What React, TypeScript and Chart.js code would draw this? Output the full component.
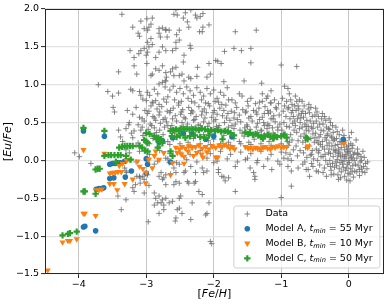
import React, { useEffect, useRef } from "react";
import { Chart, registerables } from "chart.js";
Chart.register(...registerables);

const FONT = '"DejaVu Sans", sans-serif';

const xTicks = [-4, -3, -2, -1, 0];
const yTicks = [-1.5, -1.0, -0.5, 0, 0.5, 1.0, 1.5, 2.0];
const legendNames = ["Data", "Model A", "Model B", "Model C"];
const legendTmin = [55, 10, 50];

const dataStars: number[][] = [
  // far left & outliers
  [-4.06,0.10],[-3.99,0.05],[-3.82,-0.04],[-3.71,1.00],[-3.57,0.91],[-3.50,0.85],[-3.41,0.89],[-3.41,1.17],[-3.41,0.40],
  [-3.28,0.66],[-3.36,1.93],[-3.49,0.70],[-3.47,0.64],[-3.32,-0.10],[-3.29,-0.16],[-3.42,-0.47],[-3.37,-0.65],[-3.30,-0.52],
  // top region
  [-3.08,1.84],[-2.99,1.87],[-2.91,1.88],[-3.20,1.76],[-3.12,1.68],[-3.10,1.64],[-3.03,1.74],[-2.98,1.72],[-2.96,1.76],[-2.93,1.80],
  [-2.81,1.74],[-2.76,1.75],[-2.71,1.72],[-2.81,1.68],[-2.79,1.63],[-2.93,1.61],[-2.98,1.56],[-2.91,1.53],
  [-3.24,1.45],[-3.18,1.36],[-3.11,1.41],[-3.08,1.45],[-3.03,1.48],[-3.00,1.39],[-2.98,1.43],[-2.96,1.50],[-2.86,1.36],[-2.81,1.43],[-2.76,1.50],[-2.71,1.45],
  [-3.18,1.25],[-3.14,1.14],[-2.99,1.28],[-2.93,1.12],[-2.91,1.14],[-2.86,1.21],[-2.81,1.19],[-2.76,1.25],[-2.71,1.16],
  [-3.23,0.94],[-3.20,0.92],[-3.10,0.91],[-3.08,0.86],[-2.98,0.90],[-2.95,0.86],[-2.88,0.94],[-2.83,0.88],[-2.81,1.01],[-2.76,1.03],[-2.72,1.05],
  [-3.05,0.81],[-3.00,0.79],[-2.91,0.77],[-2.86,0.79],[-2.81,0.74],[-2.74,0.81],
  [-2.56,1.99],[-2.42,1.95],[-2.34,1.99],[-2.27,1.92],[-2.25,1.88],[-2.20,1.90],[-2.16,1.94],[-2.45,1.88],[-2.39,1.83],[-2.54,1.92],[-2.59,1.93],
  [-2.37,1.76],[-2.16,1.76],[-2.07,1.79],[-2.21,1.70],[-2.17,1.70],[-2.71,1.73],[-2.66,1.72],[-2.51,1.72],[-2.69,1.63],[-2.55,1.66],[-2.51,1.59],[-2.56,1.56],
  [-1.68,1.70],[-1.37,1.72],[-1.70,1.48],[-1.59,1.45],[-1.45,1.48],[-1.84,1.44],[-2.35,1.52],[-2.34,1.48],[-2.61,1.45],[-2.56,1.48],
  [-1.97,1.32],[-1.94,1.31],[-1.89,1.28],[-1.45,1.29],[-1.00,1.26],[-2.44,1.39],[-2.45,1.30],[-2.24,1.23],[-2.07,1.28],[-2.05,1.14],[-2.10,1.10],
  [-2.56,1.23],[-2.61,1.21],[-2.64,1.17],[-2.70,1.10],[-2.59,1.12],[-2.51,1.12],[-2.47,1.14],[-2.37,1.10],[-2.44,1.05],[-2.34,1.08],[-2.71,1.05],[-2.25,1.11],
  [-1.85,1.04],[-1.55,1.05],[-1.29,1.02],[-0.77,1.24],
  // upper bulge
  [-2.72,0.97],[-2.65,0.93],[-2.60,0.98],[-2.55,0.90],[-2.50,0.95],[-2.45,0.88],[-2.40,0.97],[-2.35,0.92],[-2.30,0.86],[-2.25,0.96],[-2.20,0.90],
  [-2.15,0.85],[-2.10,0.95],[-2.05,0.88],[-2.00,0.93],[-1.95,0.82],[-1.90,0.90],[-1.85,0.86],[-1.80,0.96],[-2.68,0.84],[-2.58,0.80],[-2.48,0.78],
  [-2.38,0.82],[-2.28,0.76],[-2.18,0.80],[-2.08,0.75],[-1.98,0.78],[-1.88,0.74],[-1.78,0.80],
  [-1.73,0.80],[-1.62,0.88],[-1.58,0.85],[-1.45,0.82],[-1.38,0.75],[-1.28,0.78],[-1.20,0.85],[-1.10,0.80],[-1.04,0.75],[-1.15,0.92],
  [-2.90,0.76],[-2.70,0.77],[-2.52,0.76],[-2.33,0.78],[-2.12,0.76],[-1.93,0.77],[-1.68,0.76],[-1.50,0.78],[-1.32,0.77],[-1.16,0.76],
  // main bulge rows
  [-3.15,0.70],[-3.02,0.66],[-2.93,0.72],[-2.84,0.68],[-2.77,0.71],[-2.69,0.65],[-2.60,0.69],[-2.52,0.73],[-2.46,0.67],[-2.37,0.70],[-2.31,0.64],
  [-2.22,0.71],[-2.14,0.68],[-2.06,0.72],[-1.99,0.66],[-1.91,0.69],[-1.82,0.73],[-1.74,0.65],[-1.66,0.70],[-1.57,0.67],[-1.49,0.72],[-1.41,0.66],
  [-1.33,0.69],[-1.24,0.71],[-1.16,0.64],[-1.07,0.68],
  [-3.20,0.61],[-3.10,0.57],[-2.98,0.62],[-2.90,0.58],[-2.81,0.60],[-2.72,0.56],[-2.65,0.63],[-2.57,0.59],[-2.49,0.61],[-2.42,0.55],[-2.34,0.62],
  [-2.26,0.58],[-2.18,0.60],[-2.11,0.63],[-2.03,0.57],[-1.95,0.61],[-1.87,0.59],[-1.79,0.62],[-1.70,0.56],[-1.62,0.60],[-1.53,0.63],[-1.45,0.58],
  [-1.36,0.61],[-1.28,0.57],[-1.19,0.62],[-1.11,0.59],[-1.03,0.60],
  [-3.25,0.50],[-3.12,0.47],[-3.03,0.52],[-2.94,0.48],[-2.86,0.53],[-2.79,0.49],[-2.70,0.51],[-2.62,0.46],[-2.55,0.52],[-2.47,0.50],[-2.39,0.48],
  [-2.30,0.53],[-2.23,0.47],[-2.15,0.51],[-2.07,0.49],[-2.00,0.52],[-1.92,0.46],[-1.84,0.50],[-1.76,0.53],[-1.68,0.48],[-1.60,0.51],[-1.51,0.47],
  [-1.43,0.52],[-1.35,0.49],[-1.26,0.50],[-1.18,0.46],[-1.09,0.51],[-1.02,0.48],
  [-3.30,0.42],[-3.18,0.39],[-3.06,0.44],[-2.97,0.41],[-2.88,0.43],[-2.80,0.40],[-2.73,0.44],[-2.64,0.42],[-2.58,0.39],[-2.50,0.43],[-2.41,0.41],
  [-2.33,0.44],[-2.25,0.40],[-2.17,0.42],[-2.09,0.45],[-2.01,0.41],[-1.93,0.43],[-1.86,0.39],[-1.78,0.44],[-1.70,0.42],[-1.61,0.40],[-1.54,0.43],
  [-1.46,0.41],[-1.37,0.44],[-1.29,0.39],[-1.21,0.42],[-1.13,0.43],[-1.05,0.40],
  [-3.06,0.55],[-2.88,0.56],[-2.75,0.54],[-2.61,0.55],[-2.44,0.57],[-2.28,0.54],[-2.13,0.56],[-1.97,0.54],[-1.81,0.56],[-1.65,0.54],[-1.48,0.56],[-1.32,0.54],[-1.15,0.55],
  [-2.96,0.65],[-2.80,0.64],[-2.64,0.66],[-2.48,0.64],[-2.33,0.66],[-2.17,0.65],[-2.01,0.63],[-1.85,0.66],[-1.69,0.63],[-1.52,0.65],[-1.37,0.64],[-1.20,0.66],
  [-2.92,0.46],[-2.68,0.46],[-2.45,0.45],[-2.20,0.46],[-1.96,0.45],[-1.73,0.46],[-1.50,0.45],[-1.25,0.46],
  [-2.85,0.37],[-2.58,0.36],[-2.33,0.37],[-2.05,0.36],[-1.80,0.37],[-1.58,0.36],[-1.35,0.37],[-1.12,0.36],
  [-3.35,0.25],[-3.30,0.14],[-3.22,0.36],[-3.26,0.47],[-3.38,0.31],[-3.12,0.23],[-3.08,0.40],
  // band region
  [-3.20,0.30],[-3.05,0.33],[-2.90,0.29],[-2.75,0.34],[-2.60,0.28],[-2.45,0.33],[-2.30,0.29],[-2.15,0.34],[-2.00,0.28],[-1.85,0.33],[-1.70,0.29],
  [-1.55,0.32],[-1.40,0.28],[-1.25,0.34],[-1.10,0.29],[-0.95,0.33],
  [-2.68,0.25],[-2.38,0.24],[-2.08,0.26],[-1.78,0.24],[-1.62,0.25],[-1.48,0.24],[-1.18,0.25],[-0.88,0.24],
  [-3.15,0.20],[-2.95,0.22],[-2.80,0.19],[-2.65,0.21],[-2.50,0.22],[-2.35,0.20],[-2.20,0.22],[-2.05,0.21],[-1.90,0.22],[-1.75,0.20],[-1.60,0.22],
  [-1.45,0.21],[-1.30,0.22],[-1.15,0.20],[-1.00,0.22],
  [-3.25,0.10],[-3.10,0.12],[-2.95,0.08],[-2.80,0.13],[-2.65,0.09],[-2.50,0.11],[-2.35,0.08],[-2.20,0.13],[-2.05,0.09],[-1.90,0.12],[-1.75,0.08],
  [-1.60,0.11],[-1.45,0.09],[-1.30,0.12],[-1.15,0.08],[-1.00,0.11],
  [-3.30,0.01],[-3.15,-0.02],[-2.98,0.03],[-2.83,-0.01],[-2.68,0.02],[-2.55,-0.03],[-2.40,0.01],[-2.25,-0.02],[-2.10,0.03],[-1.95,-0.01],[-1.80,0.02],
  [-1.65,-0.02],[-1.50,0.03],[-1.35,0.00],[-1.20,0.02],[-1.05,-0.01],[-0.90,0.02],
  // below band
  [-2.71,0.03],[-2.66,-0.03],[-2.59,-0.10],[-2.51,-0.05],[-2.42,-0.14],[-2.34,-0.08],[-2.27,-0.16],[-2.17,-0.10],[-2.10,-0.14],[-2.00,-0.03],
  [-1.93,-0.12],[-1.88,-0.21],[-2.78,-0.16],[-2.74,-0.23],[-2.88,-0.05],[-2.98,-0.19],[-3.10,-0.21],[-3.30,-0.14],
  [-1.68,-0.08],[-1.53,0.01],[-1.46,-0.10],[-1.36,-0.03],[-1.26,-0.08],[-1.14,-0.12],[-1.02,-0.05],[-0.90,-0.08],[-0.85,-0.14],[-0.75,-0.10],
  [-0.68,-0.05],[-0.63,-0.12],[-0.53,-0.08],[-0.48,-0.14],[-0.58,-0.21],[-0.38,-0.16],[-1.39,-0.21],[-1.78,-0.23],
  // lower scatter
  [-3.14,-0.21],[-3.09,-0.23],[-3.05,-0.21],[-3.03,-0.25],[-3.16,-0.32],[-3.09,-0.30],[-3.20,-0.36],[-3.18,-0.41],[-3.03,-0.43],[-2.96,-0.33],
  [-2.88,-0.43],[-2.81,-0.47],[-2.76,-0.52],[-2.71,-0.50],[-2.86,-0.50],[-2.83,-0.56],[-2.88,-0.59],[-2.74,-0.59],[-2.66,-0.56],[-2.61,-0.54],
  [-2.51,-0.50],[-2.49,-0.47],[-2.54,-0.65],[-2.51,-0.63],[-2.47,-0.70],[-2.56,-0.76],[-2.34,-0.78],[-2.32,-0.56],[-2.22,-0.41],[-2.17,-0.45],
  [-2.07,-0.56],[-2.10,-0.70],[-2.12,-0.72],[-2.39,-0.28],[-2.37,-0.30],[-2.29,-0.30],[-2.27,-0.28],[-2.51,-0.30],[-2.56,-0.28],[-2.59,-0.32],
  [-2.71,-0.32],[-2.76,-0.25],[-2.81,-0.21],[-2.71,-0.19],[-2.64,-0.18],[-2.56,-0.16],[-2.44,-0.16],[-2.15,-0.16],[-1.93,-0.16],[-1.85,-0.22],
  [-1.83,-0.27],[-1.68,-0.41],[-1.41,-0.16],[-1.39,-0.25],[-2.97,-0.81],[-2.81,-0.70],[-2.74,-0.65],[-2.78,-0.56],[-2.57,-0.80],
  [-2.05,-1.07],[-2.03,-1.10],[-0.85,-0.34],[-1.00,-0.49],
  // right part of bulge
  [-1.28,0.88],[-1.22,0.82],[-1.15,0.76],[-1.08,0.70],[-1.25,0.62],[-1.12,0.55],[-1.20,0.48],[-1.05,0.44],[-1.30,0.40],[-1.18,0.36],
  [-0.95,0.98],[-0.90,0.95],
  // right cluster
  [-0.98,0.82],[-0.95,0.72],[-0.97,0.65],[-0.93,0.58],[-0.96,0.50],[-0.92,0.45],[-0.99,0.40],[-0.94,0.35],[-0.91,0.25],[-0.97,0.18],[-0.93,0.10],[-0.96,0.03],[-0.90,0.68],[-0.92,0.78],
  [-0.88,0.88],[-0.86,0.80],[-0.84,0.74],[-0.89,0.70],[-0.85,0.63],[-0.82,0.58],[-0.87,0.55],[-0.83,0.49],[-0.88,0.44],[-0.81,0.40],[-0.86,0.34],[-0.84,0.27],[-0.89,0.20],[-0.82,0.14],[-0.87,0.08],[-0.85,0.00],[-0.83,0.66],[-0.80,0.52],
  [-0.79,0.85],[-0.77,0.78],[-0.75,0.72],[-0.78,0.66],[-0.74,0.60],[-0.76,0.55],[-0.72,0.50],[-0.79,0.46],[-0.73,0.42],[-0.77,0.37],[-0.71,0.32],[-0.75,0.26],[-0.78,0.19],[-0.72,0.13],[-0.76,0.06],[-0.74,0.68],[-0.71,0.56],[-0.73,0.80],
  [-0.69,0.78],[-0.66,0.72],[-0.68,0.65],[-0.64,0.62],[-0.67,0.57],[-0.62,0.53],[-0.65,0.48],[-0.69,0.44],[-0.63,0.40],[-0.66,0.35],[-0.61,0.30],[-0.68,0.24],[-0.64,0.17],[-0.67,0.10],[-0.62,0.04],[-0.65,-0.02],[-0.60,0.68],[-0.63,0.45],
  [-0.59,0.74],[-0.56,0.70],[-0.58,0.63],[-0.54,0.58],[-0.57,0.52],[-0.52,0.49],[-0.55,0.44],[-0.59,0.39],[-0.53,0.35],[-0.56,0.29],[-0.51,0.24],[-0.58,0.19],[-0.54,0.13],[-0.57,0.07],[-0.52,0.02],[-0.55,-0.04],[-0.50,0.60],[-0.53,0.42],
  [-0.49,0.69],[-0.47,0.64],[-0.45,0.58],[-0.48,0.52],[-0.43,0.48],[-0.46,0.44],[-0.41,0.40],[-0.49,0.36],[-0.44,0.31],[-0.47,0.26],[-0.42,0.21],[-0.48,0.15],[-0.45,0.10],[-0.41,0.05],[-0.46,0.00],[-0.43,-0.06],[-0.40,0.55],[-0.42,0.34],
  [-0.39,0.62],[-0.36,0.58],[-0.34,0.53],[-0.38,0.48],[-0.33,0.44],[-0.37,0.39],[-0.31,0.35],[-0.35,0.30],[-0.39,0.25],[-0.32,0.20],[-0.36,0.15],[-0.30,0.10],[-0.38,0.05],[-0.34,0.00],[-0.31,-0.05],[-0.36,-0.10],[-0.33,0.27],[-0.30,0.42],
  [-0.29,0.55],[-0.27,0.50],[-0.24,0.46],[-0.28,0.41],[-0.23,0.37],[-0.26,0.32],[-0.21,0.28],[-0.29,0.23],[-0.25,0.19],[-0.22,0.14],[-0.27,0.09],[-0.23,0.05],[-0.28,0.00],[-0.24,-0.04],[-0.21,-0.09],[-0.26,-0.13],[-0.22,-0.18],[-0.25,0.30],[-0.20,0.11],
  [-0.19,0.44],[-0.17,0.38],[-0.14,0.34],[-0.18,0.29],[-0.13,0.25],[-0.16,0.21],[-0.11,0.17],[-0.19,0.13],[-0.15,0.09],[-0.12,0.05],[-0.17,0.01],[-0.13,-0.03],[-0.18,-0.07],[-0.14,-0.11],[-0.11,-0.15],[-0.16,-0.19],[-0.12,-0.23],[-0.15,0.15],[-0.10,0.00],[-0.13,0.11],
  [-0.09,0.40],[-0.07,0.33],[-0.05,0.26],[-0.08,0.22],[-0.03,0.18],[-0.06,0.14],[-0.01,0.10],[-0.09,0.07],[-0.04,0.03],[-0.07,-0.01],[-0.02,-0.05],[-0.08,-0.09],[-0.05,-0.13],[-0.01,-0.17],[-0.06,-0.21],[-0.03,-0.26],[-0.04,0.08],[0.00,0.00],[-0.02,0.12],
  [0.01,0.30],[0.03,0.22],[0.05,0.16],[0.02,0.12],[0.07,0.08],[0.04,0.04],[0.08,0.00],[0.01,-0.03],[0.06,-0.07],[0.03,-0.11],[0.09,-0.14],[0.02,-0.18],[0.07,-0.22],[0.04,0.37],[0.05,0.02],[0.09,0.10],[0.00,0.20],
  [0.11,0.27],[0.13,0.15],[0.15,0.08],[0.12,0.03],[0.17,-0.02],[0.14,-0.07],[0.19,-0.10],[0.12,-0.15],[0.16,-0.20],[0.21,0.12],[0.23,0.04],[0.25,-0.04],[0.22,-0.08],[0.27,-0.11],[0.18,0.05],[0.20,-0.15],[0.28,-0.02],
  [-0.33,-0.21],[-0.26,-0.19],[-0.15,-0.25],[0.02,-0.27],[-0.45,-0.15],[-0.60,-0.12],
  [-0.44,0.13],[-0.39,0.18],[-0.35,0.08],[-0.29,0.15],[-0.27,-0.08],[-0.20,0.20],[-0.19,-0.02],[-0.16,0.06],[-0.10,0.24],[-0.09,-0.05],
  [-0.06,0.05],[-0.03,-0.10],[-0.01,0.15],[0.02,0.06],[0.05,-0.15],[0.06,0.20],[0.10,-0.05],[0.13,0.09],[0.16,-0.12],[0.19,0.00],
  [0.24,-0.16],[-0.50,0.30],[-0.60,0.45],[-0.70,0.62],[-0.80,0.72],[-0.64,0.26],[-0.55,0.08],[-0.45,0.23],[-0.32,0.33],[-0.23,0.26]
];

const modelA: number[][] = [
  [-3.93,0.39],[-3.62,0.32],[-3.93,-0.88],[-3.91,-0.87],[-3.75,-0.93],
  [-3.74,-0.38],[-3.70,-0.37],[-3.66,-0.37],[-3.63,-0.36],
  [-3.54,-0.05],[-3.50,-0.04],[-3.46,-0.04],[-3.42,-0.03],[-3.38,-0.03],
  [-3.54,-0.24],[-3.48,-0.23],[-3.31,-0.22],[-3.22,-0.14],[-3.32,-0.01],
  [-3.00,-0.17],[-3.00,0.02],[-2.98,-0.05],[-2.81,0.24],[-2.76,0.26],[-2.64,-0.02],
  [-2.61,0.30],[-2.45,0.36],[-2.32,0.35],[-2.12,0.28],[-2.00,0.32],[-1.73,0.31],[-0.08,0.28]
];

const modelB: number[][] = [
  [-4.46,-1.45],[-4.24,-1.08],[-4.16,-1.06],[-4.13,-1.06],[-4.03,-1.04],
  [-3.93,-0.70],[-3.91,-0.70],[-3.75,-0.73],[-3.93,0.14],[-3.62,0.09],
  [-3.74,-0.39],[-3.70,-0.39],[-3.66,-0.38],
  [-3.54,-0.17],[-3.50,-0.16],[-3.46,-0.16],[-3.42,-0.15],[-3.37,-0.15],
  [-3.54,-0.31],[-3.48,-0.31],[-3.43,-0.39],[-3.32,-0.31],
  [-3.40,-0.07],[-3.35,-0.04],[-3.29,0.00],[-3.25,0.01],[-3.20,-0.25],
  [-3.13,-0.01],[-3.10,-0.08],[-3.05,-0.11],[-3.01,-0.30],[-3.00,-0.16],
  [-2.96,0.01],[-2.91,-0.10],[-2.88,0.06],[-2.86,0.12],[-2.81,0.01],[-2.74,0.10],[-2.64,-0.19],[-2.61,-0.03],
  [-2.56,0.17],[-2.51,0.15],[-2.47,0.18],[-2.42,0.16],[-2.37,0.19],[-2.32,0.17],[-2.27,0.18],[-2.22,0.20],[-2.17,0.16],[-2.12,0.18],
  [-2.07,0.15],[-2.02,0.19],[-1.97,0.17],[-1.92,0.20],[-1.88,0.18],[-1.84,0.21],[-1.80,0.19],[-1.76,0.16],[-1.72,0.18],[-1.69,0.15],
  [-2.54,0.10],[-2.48,0.08],[-2.44,0.05],[-2.38,0.12],[-2.30,0.06],[-2.25,0.10],[-2.18,0.08],[-2.10,0.11],[-1.97,0.04],
  [-2.44,-0.04],[-2.16,0.04],[-1.94,0.04],
  [-1.53,0.18],[-1.49,0.16],[-1.46,0.17],[-1.42,0.15],[-1.38,0.17],[-1.35,0.16],[-1.31,0.15],[-1.27,0.17],[-1.24,0.18],[-1.20,0.16],
  [-1.16,0.15],[-1.13,0.18],[-1.09,0.17],[-1.05,0.19],[-1.00,0.17],[-0.96,0.18],[-0.92,0.18],
  [-0.61,0.17],[-0.60,0.19],[-0.07,0.22]
];

const modelC: number[][] = [
  [-4.24,-0.99],[-4.16,-0.97],[-4.13,-0.96],[-4.03,-0.94],
  [-3.93,0.43],[-3.62,0.39],[-3.93,-0.41],[-3.91,-0.41],[-3.75,-0.44],
  [-3.75,-0.12],[-3.72,-0.11],[-3.69,-0.11],
  [-3.62,0.06],[-3.56,0.07],[-3.52,0.07],[-3.47,0.07],[-3.42,0.07],[-3.38,0.07],[-3.30,0.06],[-3.45,-0.02],
  [-3.40,0.17],[-3.36,0.18],[-3.32,0.19],[-3.28,0.19],[-3.24,0.19],[-3.20,0.19],[-3.23,0.01],
  [-3.10,0.19],[-3.06,0.17],[-3.02,0.13],[-2.98,0.12],[-3.03,0.27],[-3.00,0.25],[-2.98,0.23],[-3.00,0.36],[-2.95,0.35],
  [-2.88,0.32],[-2.85,0.28],[-2.82,0.30],[-2.80,0.25],[-2.78,0.28],[-2.76,0.23],[-2.83,0.17],[-2.64,0.12],[-2.61,0.06],
  [-2.64,0.39],[-2.60,0.40],[-2.56,0.41],[-2.52,0.39],[-2.48,0.42],[-2.44,0.41],[-2.40,0.42],[-2.36,0.41],[-2.31,0.41],[-2.27,0.42],
  [-2.22,0.40],[-2.18,0.42],[-2.13,0.41],[-2.08,0.39],[-2.04,0.40],[-1.98,0.39],[-1.94,0.40],[-1.89,0.38],[-1.83,0.39],[-1.79,0.38],[-1.75,0.36],[-1.70,0.33],
  [-2.62,0.32],[-2.55,0.31],[-2.50,0.33],[-2.42,0.30],[-2.35,0.32],[-2.28,0.33],[-2.20,0.31],[-2.14,0.30],[-2.07,0.33],[-1.87,0.28],
  [-1.53,0.37],[-1.49,0.35],[-1.46,0.36],[-1.42,0.34],[-1.38,0.35],[-1.34,0.33],[-1.30,0.31],[-1.27,0.29],[-1.25,0.32],[-1.20,0.34],
  [-1.16,0.31],[-1.12,0.29],[-1.10,0.33],[-1.06,0.31],[-1.00,0.32],[-0.96,0.34],[-0.92,0.30],[-0.63,0.30],[-0.61,0.28]
];

const toXY = (arr: number[][]) => arr.map(([x, y]) => ({ x, y }));
const fmt = (v: number, d: number) => (v < 0 ? "\u2212" : "") + Math.abs(v).toFixed(d);

function drawMarker(ctx: CanvasRenderingContext2D, kind: number, x: number, y: number) {
  ctx.save();
  if (kind === 0) {
    ctx.strokeStyle = "rgba(118,118,118,0.85)";
    ctx.lineWidth = 1;
    ctx.beginPath();
    ctx.moveTo(x - 2.8, y); ctx.lineTo(x + 2.8, y);
    ctx.moveTo(x, y - 2.8); ctx.lineTo(x, y + 2.8);
    ctx.stroke();
  } else if (kind === 1) {
    ctx.fillStyle = "#1f77b4";
    ctx.beginPath(); ctx.arc(x, y, 2.8, 0, Math.PI * 2); ctx.fill();
  } else if (kind === 2) {
    ctx.fillStyle = "#ff7f0e";
    ctx.beginPath();
    ctx.moveTo(x - 3.2, y - 2); ctx.lineTo(x + 3.2, y - 2); ctx.lineTo(x, y + 3.4); ctx.closePath();
    ctx.fill();
  } else {
    ctx.strokeStyle = "#2ca02c";
    ctx.lineWidth = 2.2;
    ctx.beginPath();
    ctx.moveTo(x - 3.2, y); ctx.lineTo(x + 3.2, y);
    ctx.moveTo(x, y - 3.2); ctx.lineTo(x, y + 3.2);
    ctx.stroke();
  }
  ctx.restore();
}

const decorPlugin = {
  id: "decor",
  afterDraw(chart: any) {
    const ctx: CanvasRenderingContext2D = chart.ctx;
    const a = chart.chartArea;
    ctx.save();
    ctx.strokeStyle = "#262626";
    ctx.lineWidth = 1;
    ctx.strokeRect(Math.round(a.left) + 0.5, Math.round(a.top) + 0.5, Math.round(a.right - a.left) - 1, Math.round(a.bottom - a.top) - 1);

    ctx.fillStyle = "#000";
    ctx.textBaseline = "middle";
    const drawMixed = (parts: [string, string][], cx: number, cy: number) => {
      let w = 0;
      for (const [t, f] of parts) { ctx.font = f; w += ctx.measureText(t).width; }
      let x = cx - w / 2;
      ctx.textAlign = "left";
      for (const [t, f] of parts) { ctx.font = f; ctx.fillText(t, x, cy); x += ctx.measureText(t).width; }
    };
    const nf = `11px ${FONT}`, itf = `italic 11px ${FONT}`;
    drawMixed([["[", nf], ["Fe", itf], ["/", nf], ["H", itf], ["]", nf]], (a.left + a.right) / 2, 294);
    ctx.save();
    ctx.translate(8.5, (a.top + a.bottom) / 2);
    ctx.rotate(-Math.PI / 2);
    drawMixed([["[", nf], ["Eu", itf], ["/", nf], ["Fe", itf], ["]", nf]], 0, 0);
    ctx.restore();

    const bw = 146, bh = 62;
    const bx = a.right - 4 - bw, by = a.bottom - 6 - bh;
    ctx.beginPath();
    const r = 2.5;
    ctx.moveTo(bx + r, by);
    ctx.lineTo(bx + bw - r, by); ctx.quadraticCurveTo(bx + bw, by, bx + bw, by + r);
    ctx.lineTo(bx + bw, by + bh - r); ctx.quadraticCurveTo(bx + bw, by + bh, bx + bw - r, by + bh);
    ctx.lineTo(bx + r, by + bh); ctx.quadraticCurveTo(bx, by + bh, bx, by + bh - r);
    ctx.lineTo(bx, by + r); ctx.quadraticCurveTo(bx, by, bx + r, by);
    ctx.closePath();
    ctx.fillStyle = "rgba(255,255,255,0.8)";
    ctx.fill();
    ctx.strokeStyle = "#d0d0d0";
    ctx.lineWidth = 1;
    ctx.stroke();

    const fs = 9.5;
    const lf = `${fs}px ${FONT}`, li = `italic ${fs}px ${FONT}`, ls = `italic ${fs * 0.7}px ${FONT}`;
    ctx.textAlign = "left";
    ctx.textBaseline = "middle";
    ctx.fillStyle = "#000";
    for (let i = 0; i < legendNames.length; i++) {
      const cy = by + 8 + i * 14.8;
      drawMarker(ctx, i, bx + 13.5, cy);
      let x = bx + 31.6;
      if (i === 0) {
        ctx.font = lf; ctx.fillText(legendNames[i], x, cy);
      } else {
        const s1 = `${legendNames[i]}, `;
        ctx.font = lf; ctx.fillText(s1, x, cy); x += ctx.measureText(s1).width;
        ctx.font = li; ctx.fillText("t", x, cy); x += ctx.measureText("t").width;
        ctx.font = ls; ctx.fillText("min", x, cy + 2.3); x += ctx.measureText("min").width;
        const s2 = ` = ${legendTmin[i - 1]} Myr`;
        ctx.font = lf; ctx.fillText(s2, x, cy);
      }
    }
    ctx.restore();
  },
};

export default function App() {
  const ref = useRef<HTMLCanvasElement | null>(null);
  useEffect(() => {
    if (!ref.current) return;
    const tickFont = { family: FONT, size: 9.5 };
    const chart = new Chart(ref.current, {
      type: "scatter",
      data: {
        datasets: [
          {
            label: legendNames[0], data: toXY(dataStars), order: 4,
            pointStyle: "cross", pointRadius: 2.8, pointBorderWidth: 1,
            pointBorderColor: "rgba(112,112,112,0.82)", pointBackgroundColor: "rgba(112,112,112,0.82)",
          },
          {
            label: legendNames[1], data: toXY(modelA), order: 3,
            pointStyle: "circle", pointRadius: 2.8, pointBorderWidth: 0,
            pointBackgroundColor: "#1f77b4", pointBorderColor: "#1f77b4",
          },
          {
            label: legendNames[2], data: toXY(modelB), order: 2,
            pointStyle: "triangle", pointRotation: 180, pointRadius: 3.6, pointBorderWidth: 0,
            pointBackgroundColor: "#ff7f0e", pointBorderColor: "#ff7f0e",
          },
          {
            label: legendNames[3], data: toXY(modelC), order: 1,
            pointStyle: "cross", pointRadius: 3.2, pointBorderWidth: 2.2,
            pointBackgroundColor: "#2ca02c", pointBorderColor: "#2ca02c",
          },
        ] as any,
      },
      options: {
        responsive: false,
        animation: false,
        events: [],
        layout: { padding: { left: 0, top: 9, right: 4, bottom: 0 } },
        plugins: { legend: { display: false }, tooltip: { enabled: false } },
        scales: {
          x: {
            type: "linear", min: -4.5, max: 0.52,
            afterBuildTicks: (s: any) => { s.ticks = xTicks.map((v) => ({ value: v })); },
            afterFit: (s: any) => { s.height = 31; },
            ticks: { font: tickFont, color: "#000", padding: 1, maxRotation: 0, autoSkip: false, callback: (v: any) => fmt(Number(v), 0) },
            grid: { color: "#b8b8b8", lineWidth: 0.8, tickLength: 4, tickColor: "#262626", tickWidth: 1 },
            border: { display: false },
          },
          y: {
            type: "linear", min: -1.5, max: 2.0,
            afterBuildTicks: (s: any) => { s.ticks = yTicks.map((v) => ({ value: v })); },
            afterFit: (s: any) => { s.width = 45; },
            ticks: { font: tickFont, color: "#000", padding: 2, autoSkip: false, callback: (v: any) => fmt(Number(v), 1) },
            grid: { color: "#e2e2e2", lineWidth: 1.2, tickLength: 4, tickColor: "#262626", tickWidth: 1 },
            border: { display: false },
          },
        },
      },
      plugins: [decorPlugin],
    });
    return () => chart.destroy();
  }, []);
  return (
    <div style={{ position: "fixed", left: 0, top: 0, width: 390, height: 305, background: "#fff" }}>
      <canvas ref={ref} width={390} height={305} style={{ width: 390, height: 305, display: "block" }} />
    </div>
  );
}
